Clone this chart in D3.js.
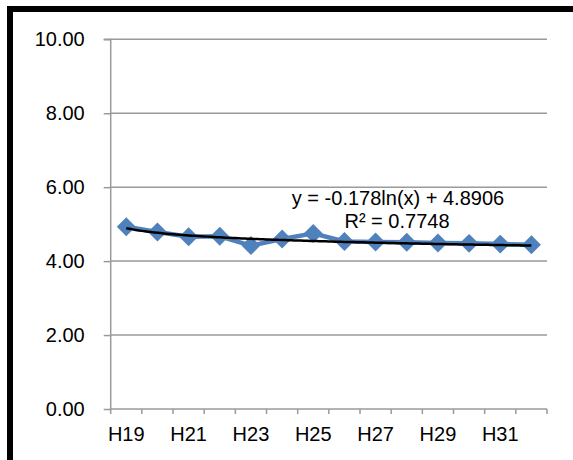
<!DOCTYPE html>
<html>
<head>
<meta charset="utf-8">
<script src="https://cdn.jsdelivr.net/npm/d3@7"></script>
<style>
  html, body { margin: 0; padding: 0; background: #fff; }
  svg { display: block; font-family: Arial, "Liberation Sans", sans-serif; }
</style>
</head>
<body>
<svg id="chart" width="573" height="460"></svg>
<script>
const categories = ["H19","H20","H21","H22","H23","H24","H25","H26","H27","H28","H29","H30","H31","H32"];
const values = [4.93, 4.79, 4.66, 4.67, 4.42, 4.60, 4.75, 4.53, 4.52, 4.51, 4.49, 4.48, 4.46, 4.44];
const yTicks = [0, 2, 4, 6, 8, 10];
const trendSlope = -0.178;
const trendIntercept = 4.8906;
const trendLabel = "y = -0.178ln(x) + 4.8906";
const r2Label = "R² = 0.7748";

const svg = d3.select("#chart");
const plotLeft = 110.7, plotRight = 547, plotTop = 39.3, plotBottom = 409;

const x = d3.scaleBand().domain(categories).range([plotLeft, plotRight]).padding(0);
const y = d3.scaleLinear().domain([0, 10]).range([plotBottom, plotTop]);
const cx = c => x(c) + x.bandwidth() / 2;

// outer frame
svg.append("rect").attr("x", 10).attr("y", 9).attr("width", 700).attr("height", 600)
  .attr("fill", "none").attr("stroke", "#000").attr("stroke-width", 6);

const gridColor = "#9a9a9a";
// gridlines
svg.append("g").selectAll("line").data(yTicks.filter(t => t > 0)).join("line")
  .attr("x1", plotLeft).attr("x2", plotRight)
  .attr("y1", d => y(d)).attr("y2", d => y(d))
  .attr("stroke", gridColor).attr("stroke-width", 1.5);

// y axis
const yAxis = d3.axisLeft(y).tickValues(yTicks).tickSize(7).tickFormat(d3.format(".2f"));
const gy = svg.append("g").attr("transform", `translate(${plotLeft},0)`).call(yAxis);
gy.select(".domain").attr("stroke", gridColor).attr("stroke-width", 1.5).attr("d", `M-7,${plotTop}H0V${plotBottom}`);
gy.selectAll(".tick line").attr("stroke", gridColor).attr("stroke-width", 1.5);
gy.selectAll(".tick text").attr("x", -26).attr("font-size", 20).attr("fill", "#000")
  .attr("font-family", "Arial, 'Liberation Sans', sans-serif");

// x axis: ticks at band edges
const gx = svg.append("g");
gx.append("line").attr("x1", plotLeft).attr("x2", plotRight).attr("y1", plotBottom).attr("y2", plotBottom)
  .attr("stroke", gridColor).attr("stroke-width", 1.5);
const edges = categories.map(c => x(c)).concat([x(categories[categories.length - 1]) + x.bandwidth()]);
gx.selectAll("line.tk").data(edges).join("line").attr("class", "tk")
  .attr("x1", d => d).attr("x2", d => d).attr("y1", plotBottom).attr("y2", plotBottom + 5)
  .attr("stroke", gridColor).attr("stroke-width", 1.5);
gx.selectAll("text").data(categories.filter((c, i) => i % 2 === 0)).join("text")
  .attr("x", d => cx(d)).attr("y", 441).attr("text-anchor", "middle")
  .attr("font-size", 20).attr("fill", "#000").text(d => d);

// data line
const blue = "#4F81BD";
const line = d3.line().x((d, i) => cx(categories[i])).y(d => y(d));
svg.append("path").datum(values).attr("d", line)
  .attr("fill", "none").attr("stroke", blue).attr("stroke-width", 4.5).attr("stroke-linejoin", "round");

// diamonds
svg.append("g").selectAll("path").data(values).join("path")
  .attr("d", d3.symbol().type(d3.symbolSquare).size(180))
  .attr("transform", (d, i) => `translate(${cx(categories[i])},${y(d)}) rotate(45)`)
  .attr("fill", blue);

// trendline (from first to last category)
const n = categories.length;
const trendPts = d3.range(1, n, 0.1).concat([n]);
const tLine = d3.line()
  .x(t => cx(categories[0]) + (t - 1) * x.bandwidth())
  .y(t => y(trendSlope * Math.log(t) + trendIntercept));
svg.append("path").datum(trendPts).attr("d", tLine)
  .attr("fill", "none").attr("stroke", "#000").attr("stroke-width", 2.5);

// labels
svg.append("text").attr("x", 398).attr("y", 205).attr("text-anchor", "middle")
  .attr("font-size", 20).attr("fill", "#000").text(trendLabel);
svg.append("text").attr("x", 397).attr("y", 228).attr("text-anchor", "middle")
  .attr("font-size", 20).attr("fill", "#000").text(r2Label);
</script>
</body>
</html>
